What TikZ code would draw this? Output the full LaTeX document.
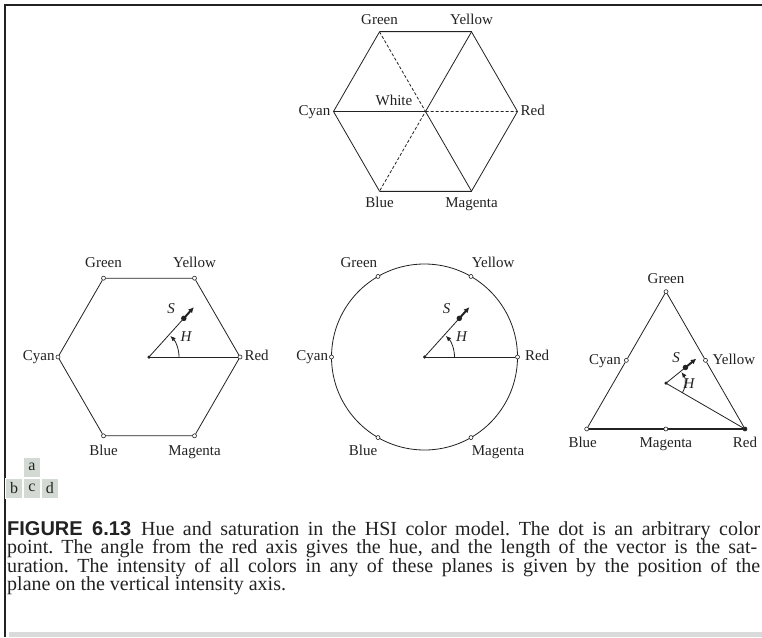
\documentclass[tikz,border=0pt]{standalone}
\usepackage{fontspec}
\setmainfont{Liberation Serif}
\setsansfont{Liberation Sans}
\usetikzlibrary{arrows.meta,positioning,calc}
\definecolor{Ink}{HTML}{222222}
\definecolor{PanelGray}{HTML}{D3DAD3}
\definecolor{BarGray}{HTML}{DADADA}
\frenchspacing
\tikzset{
  lbl/.style={font=\fontsize{15}{17}\selectfont,text=Ink,inner sep=2pt,text height=10.5pt,text depth=3pt},
  sym/.style={lbl,font=\fontsize{15}{17}\selectfont\itshape},
  vtx/.style={circle,draw=Ink,fill=white,inner sep=0pt,minimum size=4pt,line width=.6pt},
  ctr/.style={circle,fill=Ink,inner sep=0pt,minimum size=3.5pt},
  ptdot/.style={circle,fill=Ink,inner sep=0pt,minimum size=5.5pt},
  edge/.style={draw=Ink,line width=.8pt},
  svec/.style={draw=Ink,line width=2pt,-{Latex[length=5.5pt,width=5.5pt]}},
  harc/.style={draw=Ink,line width=.8pt,-{Latex[length=5.5pt,width=4.5pt]}},
  panelbox/.style={fill=PanelGray,draw=white,line width=.8pt,minimum width=17pt,minimum height=20pt,inner sep=0pt,font=\fontsize{16}{18}\selectfont,text=Ink},
  captxt/.style={font=\fontsize{20}{18.5}\selectfont,text=Ink,inner sep=0pt,anchor=base west}
}
\begin{document}
\begin{tikzpicture}[x=1pt,y=1pt,>=Latex]
\useasboundingbox (0,0) rectangle (762,-637);
\fill[white] (0,0) rectangle (762,-637);
% frame
\draw[Ink,line width=2.5pt] (5,-637)--(5,-5)--(762,-5);
\fill[BarGray] (9,-632) rectangle (762,-637);

% (a) hexagon with white in the middle
\coordinate (aO) at (425.5,-111.5);
\foreach \n/\a in {R/0,Y/60,G/120,Cy/180,B/240,M/300}
  \coordinate (a\n) at ($(aO)+(\a:92)$);
\draw[edge] (aG)--(aY)--(aR)--(aM)--(aB)--(aCy)--cycle;
\draw[edge,line width=1.2pt] (aG)--(aY) (aB)--(aM);
\draw[edge] (aY)--(aO)--(aM);
\draw[edge,line width=1.1pt] (aCy)--(aO);
\draw[edge,dash pattern=on 3pt off 2pt] (aG)--(aO)--(aB) (aO)--(aR);
\node[lbl,above=2pt of aG] (aGl) {Green};
\node[lbl,above=2pt of aY] (aYl) {Yellow};
\node[lbl,left=1pt of aCy] (aCyl) {Cyan};
\node[lbl,right=1pt of aR] (aRl) {Red};
\node[lbl,below=4pt of aB] (aBl) {Blue};
\node[lbl,below=4pt of aM] (aMl) {Magenta};
\node[lbl,above left=1pt and 11pt of aO] (aWl) {White};

% (b) hexagon, (c) circle
\coordinate (bO) at (149,-357);
\coordinate (cO) at (424.5,-357);
\draw[edge] (cO) circle[radius=93];
\foreach \n/\a in {R/0,Y/60,G/120,Cy/180,B/240,M/300}{
  \node[vtx] (b\n) at ($(bO)+(\a:91)$) {};
  \node[vtx] (c\n) at ($(cO)+(\a:93)$) {};
}
\draw[edge] (bG)--(bY)--(bR)--(bM)--(bB)--(bCy)--(bG);
\foreach \p in {b,c}{
  \draw[edge] (\p O)--(\p R);
  \coordinate (\p P) at ($(\p O)+(48:52)$);
  \coordinate (\p T) at ($(\p O)+(48:67)$);
  \draw[edge] (\p O)--(\p P);
  \draw[svec] (\p P)--(\p T);
  \node[ptdot] (\p Pd) at (\p P) {};
  \node[ctr] (\p Od) at (\p O) {};
  \draw[harc] ($(\p O)+(30,0)$) arc[start angle=0,end angle=45,radius=30];
  \node[sym] (\p S) at ($(\p O)+(22,47)$) {S};
  \node[sym] (\p H) at ($(\p O)+(37,19)$) {H};
}
\node[lbl,above=3pt of bG] (bGl) {Green};
\node[lbl,above=3pt of bY] (bYl) {Yellow};
\node[lbl,left=-1pt of bCy] (bCyl) {Cyan};
\node[lbl,right=0pt of bR] (bRl) {Red};
\node[lbl,below=5pt of bB] (bBl) {Blue};
\node[lbl,below=5pt of bM] (bMl) {Magenta};

\node[lbl,above left=2pt and -3pt of cG] (cGl) {Green};
\node[lbl,above right=2pt and -3pt of cY] (cYl) {Yellow};
\node[lbl,left=-1pt of cCy] (cCyl) {Cyan};
\node[lbl,right=3pt of cR] (cRl) {Red};
\node[lbl,below left=4pt and -3pt of cB] (cBl) {Blue};
\node[lbl,below right=4pt and -3pt of cM] (cMl) {Magenta};

% (d) triangle
\node[vtx] (dG) at (666,-291.7) {};
\node[vtx] (dB) at (586.7,-429) {};
\node[vtx,fill=Ink] (dR) at (745,-429) {};
\node[vtx] (dCy) at ($(dG)!.5!(dB)$) {};
\node[vtx] (dY) at ($(dG)!.5!(dR)$) {};
\node[vtx] (dM) at ($(dB)!.5!(dR)$) {};
\draw[edge] (dG)--(dCy)--(dB);
\draw[edge,line width=1.2pt] (dB)--(dM)--(dR);
\draw[edge] (dR)--(dY)--(dG);
\coordinate (dO) at (666,-383.2);
\draw[edge] (dO)--(dR);
\coordinate (dP) at ($(dO)+(39:25)$);
\coordinate (dT) at ($(dO)+(39:39)$);
\draw[edge] (dO)--(dP);
\draw[svec] (dP)--(dT);
\node[ptdot] (dPd) at (dP) {};
\node[ctr] (dOd) at (dO) {};
\draw[harc] ($(dO)+(-30:19)$) arc[start angle=-30,end angle=36,radius=19];
\node[sym] (dS) at ($(dO)+(10,24)$) {S};
\node[sym] (dH) at ($(dO)+(23,-2)$) {H};
\node[lbl,above=1pt of dG] (dGl) {Green};
\node[lbl,left=1pt of dCy] (dCyl) {Cyan};
\node[lbl,right=2.5pt of dY] (dYl) {Yellow};
\node[lbl,below=3pt of dB,xshift=-4pt] (dBl) {Blue};
\node[lbl,below=3pt of dM] (dMl) {Magenta};
\node[lbl,below=3pt of dR] (dRl) {Red};

% panel letters
\node[panelbox] (pc) at (32,-488) {c};
\node[panelbox,left=0pt of pc] (pb) {b};
\node[panelbox,right=0pt of pc] (pd) {d};
\node[panelbox,above=0pt of pc] (pa) {a};

% caption
\node[captxt] (cap1) at (7,-535) {\makebox[753pt][s]{{\sffamily\bfseries FIGURE 6.13}\hspace{0.5em}Hue and saturation in the HSI color model. The dot is an arbitrary color}};
\node[captxt] (cap2) at (7,-553.5) {\makebox[750pt][s]{point. The angle from the red axis gives the hue, and the length of the vector is the sat-}};
\node[captxt] (cap3) at (7,-572) {\makebox[753pt][s]{uration. The intensity of all colors in any of these planes is given by the position of the}};
\node[captxt] (cap4) at (7,-590.5) {plane on the vertical intensity axis.};
\end{tikzpicture}
\end{document}
